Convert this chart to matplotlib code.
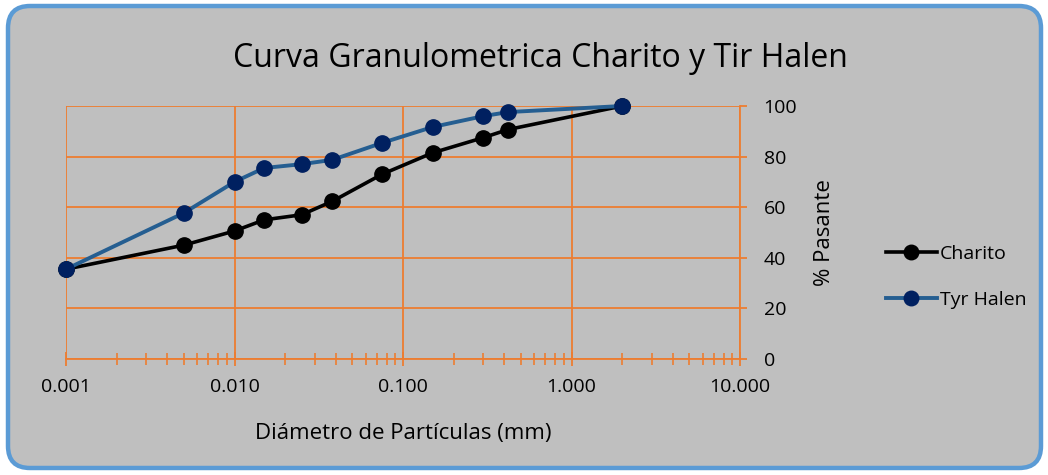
import matplotlib

matplotlib.use("Agg")
import matplotlib.pyplot as plt
from matplotlib.patches import FancyBboxPatch
from matplotlib.ticker import FixedLocator, LogLocator, NullFormatter

# tamices (mm) y porcentaje que pasa
diametro = [0.001, 0.005, 0.010, 0.015, 0.025, 0.038, 0.075, 0.15, 0.30, 0.42, 2.0]
charito = [35.5, 45.0, 50.6, 55.0, 57.0, 62.3, 73.0, 81.5, 87.5, 90.7, 100.0]
tyr_halen = [35.5, 57.7, 70.0, 75.5, 77.0, 78.7, 85.4, 91.7, 96.0, 97.6, 100.0]

x_ticks = [0.001, 0.01, 0.1, 1.0, 10.0]
x_labels = ["0.001", "0.010", "0.100", "1.000", "10.000"]
y_ticks = [0, 20, 40, 60, 80, 100]

ORANGE = "#ED7D31"
GRAY = "#BFBFBF"
BORDER = "#5B9BD5"
NAVY = "#002060"
STEEL = "#255E91"

plt.rcParams["font.family"] = ["Open Sans", "DejaVu Sans"]

fig = plt.figure(figsize=(10.48, 4.75), dpi=100)
fig.patch.set_facecolor("white")

# marco redondeado
frame = FancyBboxPatch(
    (0.08, 0.07), 10.33, 4.62,
    boxstyle="round,pad=0,rounding_size=0.22",
    transform=fig.dpi_scale_trans,
    facecolor=GRAY, edgecolor=BORDER, linewidth=3.2, zorder=-10,
)
fig.patches.append(frame)

ax = fig.add_axes([66 / 1048, 1 - 359 / 475, (740 - 66) / 1048, (359 - 106) / 475])
ax.set_zorder(2)
ax.set_facecolor(GRAY)

ax.plot(diametro, charito, color="black", lw=2.6, marker="o", ms=11,
        mfc="black", mec="black", label="Charito", zorder=4, clip_on=False)
ax.plot(diametro, tyr_halen, color=STEEL, lw=2.8, marker="o", ms=11,
        mfc=NAVY, mec=NAVY, label="Tyr Halen", zorder=5, clip_on=False)

ax.set_xscale("log")
ax.set_xlim(0.001, 10)
ax.set_ylim(0, 100)

ax.xaxis.set_major_locator(FixedLocator(x_ticks))
ax.set_xticklabels(x_labels)
ax.xaxis.set_minor_locator(LogLocator(base=10, subs=range(2, 10)))
ax.xaxis.set_minor_formatter(NullFormatter())
ax.set_yticks(y_ticks)

ax.grid(True, which="major", color=ORANGE, lw=1.3)
ax.set_axisbelow(True)

for side in ["top", "left"]:
    ax.spines[side].set_visible(False)
ax.spines["bottom"].set_color(ORANGE)
ax.spines["bottom"].set_linewidth(1.3)
ax.spines["right"].set_color(ORANGE)
ax.spines["right"].set_linewidth(1.3)

ax.yaxis.tick_right()
ax.yaxis.set_label_position("right")
ax.tick_params(axis="x", which="major", direction="inout", length=10, width=1.3,
               color=ORANGE, labelsize=14, pad=9)
ax.tick_params(axis="x", which="minor", direction="inout", length=9, width=1.2,
               color=ORANGE)
ax.tick_params(axis="y", which="major", direction="out", length=5, width=1.3,
               color=ORANGE, labelsize=14, pad=12)

ax.set_xlabel("Diámetro de Partículas (mm)", fontsize=16, labelpad=19)
ax.set_ylabel("% Pasante", fontsize=16, labelpad=12)

fig.text(0.516, 0.877, "Curva Granulometrica Charito y Tir Halen", fontsize=23,
         ha="center", va="center")

ax.legend(loc="center left", bbox_to_anchor=(1.19, 0.325), frameon=False,
          fontsize=14, handlelength=2.65, handletextpad=0.15, labelspacing=1.45,
          markerscale=0.95)

fig.savefig("out.png", dpi=100, facecolor=fig.get_facecolor())
